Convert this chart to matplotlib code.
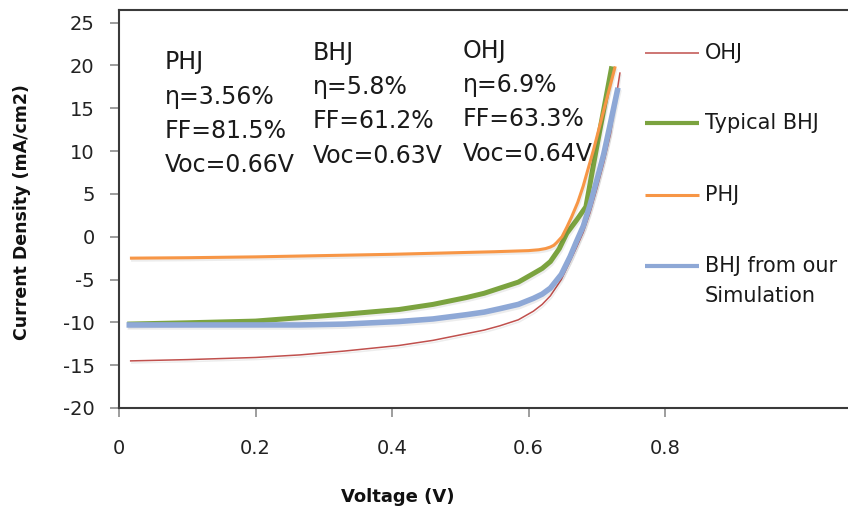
import matplotlib
matplotlib.use("Agg")
import matplotlib.pyplot as plt
import matplotlib.patheffects as pe

# J-V curves (voltage in V, current density in mA/cm2)
ohj_v = [0.016, 0.1, 0.2, 0.265, 0.33, 0.41, 0.46, 0.51, 0.535, 0.558, 0.585, 0.607, 0.62,
         0.632, 0.648, 0.66, 0.67, 0.68, 0.69, 0.70, 0.71, 0.72, 0.734]
ohj_j = [-14.5, -14.35, -14.1, -13.8, -13.35, -12.7, -12.1, -11.3, -10.9, -10.4, -9.7, -8.7,
         -7.9, -6.9, -5.0, -3.0, -1.3, 0.5, 2.8, 5.6, 8.6, 12.0, 19.2]

bhj_v = [0.012, 0.1, 0.2, 0.265, 0.33, 0.41, 0.46, 0.509, 0.535, 0.558, 0.585, 0.607, 0.62,
         0.632, 0.645, 0.656, 0.67, 0.684, 0.699, 0.71, 0.722]
bhj_j = [-10.2, -10.05, -9.85, -9.45, -9.05, -8.5, -7.9, -7.1, -6.6, -6.0, -5.3, -4.3, -3.7,
         -2.9, -1.4, 0.4, 1.9, 3.5, 10.1, 14.8, 19.9]

phj_v = [0.016, 0.1, 0.2, 0.3, 0.4, 0.5, 0.55, 0.6, 0.615, 0.625, 0.632, 0.637, 0.641, 0.645,
         0.649, 0.656, 0.663, 0.672, 0.68, 0.695, 0.709, 0.727]
phj_j = [-2.5, -2.45, -2.35, -2.2, -2.05, -1.85, -1.75, -1.62, -1.52, -1.38, -1.2, -1.0,
         -0.7, -0.35, 0.0, 1.1, 2.3, 4.0, 5.9, 10.1, 14.4, 19.9]

sim_v = [0.011, 0.1, 0.2, 0.265, 0.33, 0.41, 0.46, 0.509, 0.535, 0.558, 0.585, 0.607, 0.62,
         0.632, 0.648, 0.661, 0.67, 0.68, 0.69, 0.70, 0.71, 0.719, 0.731]
sim_j = [-10.3, -10.3, -10.3, -10.3, -10.2, -9.9, -9.6, -9.1, -8.8, -8.4, -7.9, -7.2, -6.7,
         -6.0, -4.4, -2.3, -0.6, 1.2, 3.7, 6.6, 9.6, 12.9, 17.4]

series_names = ["OHJ", "Typical BHJ", "PHJ", "BHJ from our\nSimulation"]
series_colors = ["#C0504D", "#7BA33F", "#F79646", "#8EA8D6"]
series_widths = [1.1, 3.6, 2.2, 4.0]

x_ticks = [0, 0.2, 0.4, 0.6, 0.8]
x_tick_labels = ["0", "0.2", "0.4", "0.6", "0.8"]
y_ticks = [-20, -15, -10, -5, 0, 5, 10, 15, 20, 25]

# performance figures per device
notes = [
    ("PHJ", "\u03b7=3.56%", "FF=81.5%", "Voc=0.66V"),
    ("BHJ", "\u03b7=5.8%", "FF=61.2%", "Voc=0.63V"),
    ("OHJ", "\u03b7=6.9%", "FF=63.3%", "Voc=0.64V"),
]

W, H = 848, 513
plt.rcParams["font.family"] = ["DejaVu Sans"]
plt.rcParams["axes.unicode_minus"] = False
fig = plt.figure(figsize=(W / 100, H / 100), dpi=100)


def fx(px):
    return px / W


def fy(py):
    return 1 - py / H


ax = fig.add_axes([fx(119), fy(408), fx(848) - fx(119), fy(10) - fy(408)])
ax.set_xlim(0, 1.068)
ax.set_ylim(-20, 26.48)

shadow = [pe.SimpleLineShadow(offset=(0.8, -1.5), alpha=0.07, shadow_color="k"), pe.Normal()]
curves = [(ohj_v, ohj_j), (bhj_v, bhj_j), (phj_v, phj_j), (sim_v, sim_j)]
for (v, j), c, lw in zip(curves, series_colors, series_widths):
    ax.plot(v, j, color=c, lw=lw, solid_capstyle="butt", solid_joinstyle="round",
            path_effects=shadow)

for s in ["left", "bottom", "top"]:
    ax.spines[s].set_color("#3a3a3a")
    ax.spines[s].set_linewidth(1.5)
ax.spines["right"].set_visible(False)

ax.set_xticks(x_ticks)
ax.set_xticklabels(x_tick_labels)
ax.set_yticks(y_ticks)
ax.tick_params(axis="both", direction="out", length=6.5, width=1.2, color="#8c8c8c",
               labelsize=14, labelcolor="#222222")
ax.tick_params(axis="y", pad=11)
ax.tick_params(axis="x", pad=16)

ax.set_xlabel("Voltage (V)", fontsize=13, fontweight="bold", color="#111111")
ax.xaxis.set_label_coords((398 - 119) / 729, (408 - 497) / 398)
ax.xaxis.label.set_va("center")
ax.set_ylabel("Current Density (mA/cm2)", fontsize=12.5, fontweight="bold", color="#111111")
ax.yaxis.set_label_coords((22 - 119) / 729, (408 - 212) / 398)
ax.yaxis.label.set_va("center")

# annotation columns
col_x = [165, 313, 463]
col_base = [[69, 104, 138, 172], [60, 94, 128, 163], [58, 92, 126, 161]]
for x0, bases, lines in zip(col_x, col_base, notes):
    for b, t in zip(bases, lines):
        fig.text(fx(x0), fy(b), t, fontsize=17, color="#1a1a1a", ha="left", va="baseline")

# legend
leg_y = [53, 123, 195, 266]
for y, name, c, lw in zip(leg_y, series_names, series_colors, series_widths):
    fig.add_artist(plt.Line2D([fx(645), fx(699)], [fy(y), fy(y)], color=c,
                              lw=min(lw, 3.0), solid_capstyle="butt"))
    first, *rest = name.split("\n")
    fig.text(fx(705), fy(y), first, fontsize=15, color="#1a1a1a", ha="left", va="center")
    for k, line in enumerate(rest, start=1):
        fig.text(fx(705), fy(y + 30 * k), line, fontsize=15, color="#1a1a1a",
                 ha="left", va="center")

fig.savefig("out.png", dpi=100)
